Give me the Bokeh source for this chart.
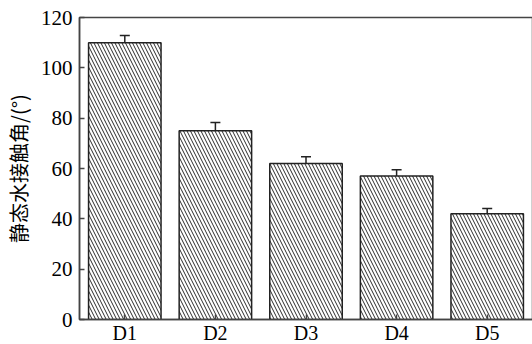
from bokeh.plotting import figure
from bokeh.models import Range1d, FactorRange, ColumnDataSource, Whisker, TeeHead, FixedTicker
from bokeh.embed import file_html
from bokeh.resources import INLINE

categories = ["D1", "D2", "D3", "D4", "D5"]
values = [110, 75, 62, 57, 42]
errors = [2.8, 3.3, 2.7, 2.5, 2.1]
y_ticks = [0, 20, 40, 60, 80, 100, 120]

src = ColumnDataSource(dict(
    x=categories,
    top=values,
    upper=[v + e for v, e in zip(values, errors)],
))

p = figure(x_range=FactorRange(*categories, range_padding=0), y_range=Range1d(0, 120),
           frame_width=453, frame_height=302, output_backend="svg", toolbar_location=None,
           min_border_left=78, min_border_right=1, min_border_top=17, min_border_bottom=24)

p.vbar(x="x", top="top", width=0.8, source=src, fill_color="white",
       line_color="#222222", line_width=1.5,
       hatch_pattern="\\", hatch_color="#2a2a2a", hatch_scale=7, hatch_weight=1)

w = Whisker(base="x", upper="upper", lower="top", source=src, dimension="height",
            line_color="#222222", line_width=1.5,
            upper_head=TeeHead(size=10, line_color="#222222", line_width=1.5),
            lower_head=None)
p.add_layout(w)

p.grid.visible = False
p.outline_line_color = "#444444"
p.outline_line_width = 1.5

for ax in (p.xaxis[0], p.yaxis[0]):
    ax.axis_line_color = "#444444"
    ax.axis_line_width = 1.5
    ax.major_tick_in = 5
    ax.major_tick_out = 0
    ax.major_tick_line_color = "#444444"
    ax.major_tick_line_width = 1.5
    ax.minor_tick_line_color = None
    ax.major_label_text_font = "Liberation Serif"
    ax.major_label_text_color = "black"

p.yaxis.major_label_text_font_size = "21px"
p.xaxis.major_label_text_font_size = "20px"
p.yaxis.ticker = FixedTicker(ticks=y_ticks)
p.yaxis.major_label_standoff = 7
p.xaxis.major_label_standoff = 2
p.yaxis.axis_label = "静态水接触角/(°)"
p.yaxis.axis_label_text_font = "Noto Sans CJK SC"
p.yaxis.axis_label_text_font_size = "20px"
p.yaxis.axis_label_text_font_style = "normal"
p.yaxis.axis_label_text_color = "black"
p.yaxis.axis_label_standoff = 5

open("out.html", "w").write(file_html(p, INLINE))
